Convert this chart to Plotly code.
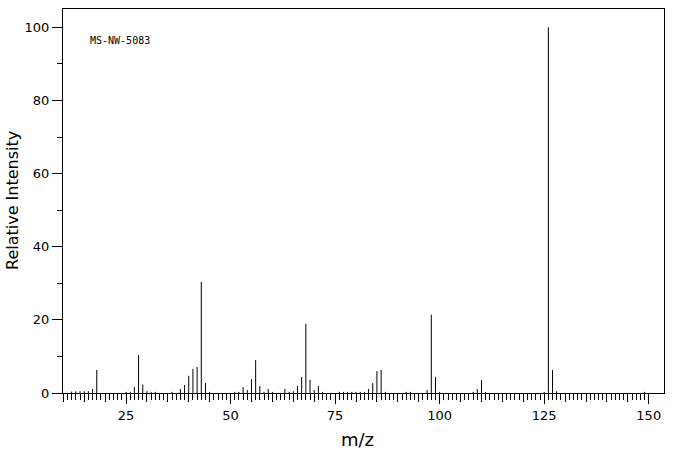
import plotly.graph_objects as go

# m/z values and relative intensities
mz = [12, 13, 14, 15, 16, 17, 18,
      25, 26, 27, 28, 29, 30, 31, 32,
      36, 38, 39, 40, 41, 42, 43, 44, 45,
      51, 52, 53, 54, 55, 56, 57, 58, 59, 60,
      63, 64, 65, 66, 67, 68, 69, 70, 71, 72,
      76, 77, 78, 79, 80, 81, 82, 83, 84, 85, 86, 87,
      92, 93, 97, 98, 99, 100,
      108, 109, 110, 111,
      125, 126, 127, 128, 149]
intensity = [0.4, 0.5, 0.5, 0.5, 0.5, 1.1, 6.3,
             0.3, 0.3, 1.6, 10.4, 2.3, 0.5, 0.3, 0.3,
             0.3, 1.1, 2.2, 4.7, 6.6, 7.1, 30.4, 2.7, 0.3,
             0.3, 0.3, 1.6, 0.8, 3.8, 9.0, 1.9, 0.3, 1.1, 0.3,
             1.1, 0.3, 0.5, 1.9, 4.4, 18.9, 3.6, 0.8, 1.9, 0.3,
             0.3, 0.3, 0.3, 0.3, 0.3, 0.3, 0.3, 1.1, 2.7, 6.0, 6.3, 0.3,
             0.3, 0.3, 0.8, 21.4, 4.4, 0.3,
             0.3, 1.1, 3.6, 0.3,
             0.3, 100.0, 6.3, 0.5, 0.3]

x_major = [25, 50, 75, 100, 125, 150]
x_mid = list(range(10, 151, 5))
x_minor = list(range(10, 151, 1))
y_major = [0, 20, 40, 60, 80, 100]
y_minor = [10, 30, 50, 70, 90]

x_range = [9.93, 153.65]
y_range = [0, 105]

label_text = "MS-NW-5083"
x_title = "m/z"
y_title = "Relative Intensity"

# build stick lines
xs, ys = [], []
for m, v in zip(mz, intensity):
    xs += [m, m, None]
    ys += [0, v, None]

FONT = "DejaVu Sans"

fig = go.Figure()
fig.add_trace(go.Scatter(x=xs, y=ys, mode="lines",
                         line=dict(color="black", width=1),
                         hoverinfo="skip", showlegend=False))
# helper trace so the overlay axis (ticks every 5) is rendered
fig.add_trace(go.Scatter(x=[None], y=[None], xaxis="x2", mode="lines",
                         showlegend=False, hoverinfo="skip"))

fig.update_layout(
    width=676, height=455,
    margin=dict(l=63, r=12, t=9, b=62),
    paper_bgcolor="white", plot_bgcolor="white",
    font=dict(family=FONT, color="black", size=13),
    xaxis=dict(range=x_range, tickmode="array", tickvals=x_major,
               ticks="outside", ticklen=10, tickwidth=1, tickcolor="black",
               showline=True, linecolor="black", linewidth=1, mirror=True,
               showgrid=False, zeroline=False,
               tickfont=dict(family=FONT, size=13, color="black"),
               minor=dict(tickmode="array", tickvals=x_minor, ticks="outside",
                          ticklen=6, tickwidth=1, tickcolor="black", showgrid=False)),
    xaxis2=dict(range=x_range, overlaying="x", anchor="y", side="bottom",
                tickmode="array", tickvals=x_mid, ticks="outside", ticklen=8,
                tickwidth=1, tickcolor="black", showticklabels=False,
                showline=False, showgrid=False, zeroline=False),
    yaxis=dict(range=y_range, tickmode="array", tickvals=y_major,
               ticks="outside", ticklen=10, tickwidth=1, tickcolor="black",
               showline=True, linecolor="black", linewidth=1, mirror=True,
               showgrid=False, zeroline=False,
               tickfont=dict(family=FONT, size=13, color="black"),
               minor=dict(tickmode="array", tickvals=y_minor, ticks="outside",
                          ticklen=5, tickwidth=1, tickcolor="black", showgrid=False)),
    annotations=[
        dict(text=label_text, x=15.8, y=96.3, xref="x", yref="y",
             xanchor="left", yanchor="middle", showarrow=False,
             font=dict(family="DejaVu Sans Mono", size=10, color="black")),
        dict(text=x_title, x=(357 - 63) / 601, y=(393 - 439) / 384,
             xref="paper", yref="paper", xanchor="center", yanchor="middle",
             showarrow=False, font=dict(family=FONT, size=18, color="black")),
        dict(text=y_title, x=(12 - 63) / 601, y=(393 - 201) / 384,
             xref="paper", yref="paper", xanchor="center", yanchor="middle",
             textangle=-90, showarrow=False,
             font=dict(family=FONT, size=16, color="black")),
    ],
)

fig.write_html("out.html")
